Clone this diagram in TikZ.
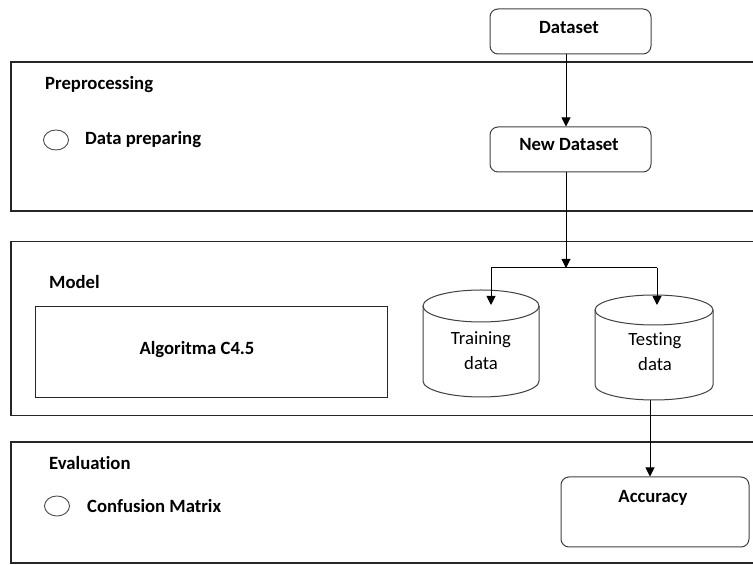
\documentclass[tikz,border=0pt]{standalone}
\usepackage{fontspec}
\setmainfont{Carlito}[Ligatures=NoCommon]
\usetikzlibrary{arrows.meta,calc}
\begin{document}
\begin{tikzpicture}[x=1pt,y=1pt,
  panel/.style={line width=1.1pt, draw=black!85},
  rbox/.style={draw=black!75, line width=1pt, rounded corners=8pt, inner sep=0pt},
  btxt/.style={inner sep=0pt, font=\fontsize{18.7}{22}\selectfont\bfseries},
  lbl/.style={btxt, anchor=west},
  ntxt/.style={inner sep=0pt, align=center, font=\fontsize{18.7}{25}\selectfont},
  arr/.style={-{Triangle[length=9pt,width=9pt]}, line width=1pt},
  ln/.style={line width=1pt},
  cyl/.style={draw=black!75, line width=1pt},
  dot/.style={draw=black!70, line width=0.9pt}
  ]
\useasboundingbox (0,0) rectangle (753,565);

% panels
\draw[panel] (753,503) -- (11,503) -- (11,354) -- (753,354);
\draw[panel] (753,323.5) -- (11,323.5) -- (11,149.5) -- (753,149.5);
\draw[panel] (753,123) -- (11,123) -- (11,2) -- (753,2);

% panel labels
\node[lbl] (pre) at (45,480) {Preprocessing};
\draw[dot] (56,425) ellipse [x radius=12.5, y radius=10];
\node[lbl] (dp) at (85,425) {Data preparing};
\node[lbl] (mod) at (49,283) {Model};
\draw[panel, line width=1pt] (35,258) rectangle (387,167);
\node[btxt] (alg) at (197,215) {Algoritma C4.5};
\node[lbl] (ev) at (49,102) {Evaluation};
\draw[dot] (57,59) ellipse [x radius=12.5, y radius=10];
\node[lbl] (cm) at (87,59) {Confusion Matrix};

% dataset boxes
\node[rbox, minimum width=161pt, minimum height=45pt] (ds) at (570.5,533.5) {};
\node[btxt] (dst) at (569,537) {Dataset};
\node[rbox, minimum width=161pt, minimum height=45pt] (nd) at (570.5,415.5) {};
\node[btxt] (ndt) at (569,420) {New Dataset};

% cylinders
\draw[cyl, fill=white] (423,259) -- (423,184) arc[start angle=180, end angle=360, x radius=58, y radius=16] -- (539,259);
\draw[cyl] (481,259) ellipse [x radius=58, y radius=16];
\node[ntxt] (tr) at (481,214.5) {Training\\data};
\draw[cyl, fill=white] (595,255) -- (595,180) arc[start angle=180, end angle=360, x radius=59, y radius=15] -- (713,255);
\draw[cyl] (654,255) ellipse [x radius=59, y radius=15];
\node[ntxt] (ts) at (655,213.5) {Testing\\data};
\coordinate (trtop) at (491,260);
\coordinate (tstop) at (657,260);
\coordinate (tsbot) at (650,165);

% accuracy
\node[rbox, minimum width=188pt, minimum height=70pt] (acc) at (655,53) {};
\node[btxt] (acct) at (653,67) {Accuracy};

% connectors
\coordinate (split) at (566,297);
\coordinate (splitL) at (491,297);
\coordinate (splitR) at (657,297);
\draw[arr] ([xshift=-4.5pt]ds.south) -- ([xshift=-4.5pt]nd.north);
\draw[arr] ([xshift=-4.5pt]nd.south) -- (split);
\draw[ln] (splitL) -- (splitR);
\draw[arr] (splitL) -- (trtop);
\draw[arr] (splitR) -- (tstop);
\draw[arr] (tsbot) -- (tsbot |- acc.north);
\end{tikzpicture}
\end{document}
